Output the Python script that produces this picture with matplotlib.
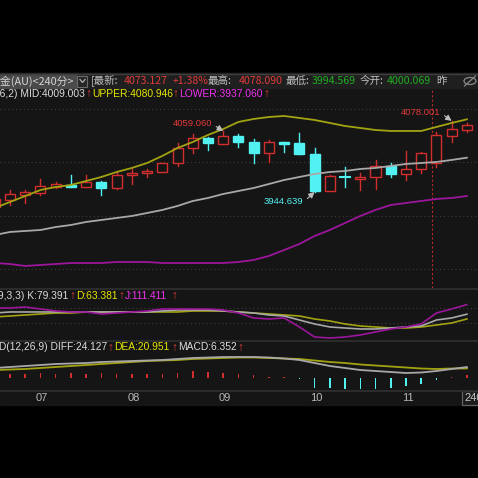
import matplotlib.pyplot as plt
from matplotlib.patches import Rectangle, Ellipse
from matplotlib.transforms import blended_transform_factory

plt.rcParams['font.family'] = ['Liberation Sans', 'DejaVu Sans']
CJK = ['Noto Sans CJK SC', 'DejaVu Sans']

# 240-minute bars; index -1 is the one cut off at the left edge
idx = list(range(-1, 31))
opens = [3916.5, 3929.6, 3939.0, 3942.8, 3954.0, 3957.8, 3954.0, 3963.4, 3952.1, 3976.5,
         3980.3, 3982.1, 3999.0, 4027.2, 4045.9, 4034.7, 4049.7, 4038.4, 4017.8, 4038.4,
         4036.5, 4015.9, 3946.5, 3972.8, 3969.0, 3972.8, 3993.4, 3978.4, 3987.8, 3999.0,
         4049.7, 4060.9]
closes = [3931.5, 3940.9, 3944.6, 3955.9, 3959.6, 3954.0, 3963.4, 3952.1, 3976.5, 3980.3,
          3984.0, 3999.0, 4027.2, 4045.9, 4036.5, 4049.7, 4038.4, 4017.8, 4038.4, 4034.7,
          4015.9, 3946.5, 3974.6, 3970.9, 3972.8, 3993.4, 3978.4, 3987.8, 4017.8, 4051.6,
          4062.8, 4071.0]
highs = [3935.2, 3948.4, 3948.4, 3969.0, 3963.4, 3976.5, 3976.5, 3965.3, 3984.0, 3987.8,
         3987.8, 3999.6, 4036.5, 4053.4, 4047.8, 4059.06, 4053.4, 4044.1, 4042.2, 4038.4,
         4055.3, 4027.2, 3976.5, 3991.5, 3980.3, 4004.7, 3999.0, 4021.5, 4019.7, 4057.2,
         4078.001, 4074.1]
lows = [3912.7, 3920.2, 3924.0, 3939.0, 3952.1, 3954.0, 3954.0, 3939.0, 3950.3, 3959.6,
        3972.8, 3982.1, 3993.4, 4017.8, 4023.4, 4034.7, 4029.1, 3999.0, 4000.9, 4019.7,
        4015.9, 3944.639, 3946.5, 3954.0, 3948.0, 3950.3, 3972.8, 3967.1, 3980.3, 3991.5,
        4038.4, 4057.2]

# BOLL
upper = [3914.6, 3925.9, 3937.1, 3948.4, 3954.0, 3957.8, 3965.3, 3972.8, 3982.1, 3989.7,
         3999.0, 4012.2, 4027.2, 4038.4, 4051.6, 4062.8, 4076.0, 4081.6, 4085.3, 4087.2,
         4083.5, 4079.7, 4074.1, 4068.4, 4064.7, 4060.9, 4059.1, 4059.1, 4059.1, 4066.6,
         4074.1, 4080.946]
mid = [3863.9, 3869.6, 3871.5, 3873.3, 3878.9, 3882.7, 3888.4, 3892.1, 3895.9, 3899.6,
       3905.2, 3910.9, 3918.4, 3927.7, 3933.4, 3940.9, 3946.5, 3952.1, 3959.6, 3967.1,
       3972.8, 3978.4, 3982.1, 3984.0, 3987.8, 3989.7, 3993.4, 3997.2, 3999.0, 4000.9,
       4004.7, 4009.003]
lower = [3811.4, 3809.5, 3805.8, 3807.7, 3809.5, 3811.4, 3811.4, 3811.4, 3813.3, 3813.3,
         3813.3, 3811.4, 3811.4, 3811.4, 3811.4, 3811.4, 3813.3, 3817.1, 3824.6, 3835.8,
         3847.1, 3862.1, 3873.3, 3886.5, 3899.6, 3910.9, 3920.2, 3924.0, 3927.7, 3931.5,
         3933.4, 3937.06]

# KDJ
k_vals = [83.3, 86.7, 86.7, 86.7, 86.7, 86.7, 86.7, 86.7, 86.7, 86.7, 86.7, 90.0, 93.3,
          93.3, 93.3, 90.0, 86.7, 83.3, 76.7, 73.3, 60.0, 46.7, 36.7, 33.3, 30.0, 30.0,
          33.3, 36.7, 40.0, 60.0, 66.7, 79.391]
d_vals = [70.0, 73.3, 76.7, 80.0, 83.3, 83.3, 86.7, 86.7, 86.7, 86.7, 86.7, 86.7, 86.7,
          90.0, 90.0, 90.0, 86.7, 83.3, 80.0, 76.7, 73.3, 63.3, 56.7, 46.7, 40.0, 36.7,
          33.3, 33.3, 36.7, 43.3, 50.0, 63.381]
j_vals = [100.0, 100.0, 103.3, 96.7, 90.0, 86.7, 86.7, 80.0, 83.3, 86.7, 90.0, 96.7, 96.7,
          96.7, 96.7, 93.3, 83.3, 66.7, 63.3, 66.7, 36.7, 3.3, 0.0, 3.3, 10.0, 20.0,
          30.0, 36.7, 46.7, 83.3, 96.7, 111.411]

# MACD
diff = [22.0, 24.2, 26.4, 28.6, 30.8, 31.9, 33.0, 35.2, 36.3, 37.4, 38.5, 39.6, 41.8,
        44.0, 45.1, 46.2, 46.2, 46.2, 45.1, 42.9, 39.6, 33.0, 26.4, 22.0, 17.6, 15.4,
        13.2, 11.0, 12.1, 15.4, 19.8, 24.127]
dea = [17.6, 18.7, 19.8, 22.0, 24.2, 26.4, 28.6, 30.8, 33.0, 35.2, 37.4, 38.5, 39.6,
       41.8, 42.9, 44.0, 45.1, 45.1, 44.0, 42.9, 41.8, 38.5, 35.2, 33.0, 29.7, 27.5,
       25.3, 23.1, 20.9, 19.8, 20.9, 20.951]
hist = [8.8, 8.8, 8.8, 11.0, 8.8, 11.0, 8.8, 11.0, 8.8, 8.8, 8.8, 8.8, 11.0, 15.4, 13.2,
        11.0, 8.8, 6.6, 3.3, 1.8, -2.2, -22.0, -22.0, -25.0, -25.0, -24.2, -22.0, -17.6,
        -13.2, -4.4, 1.8, 6.352]

day_pos = [2, 8, 14, 20, 26]
day_labels = ['07', '08', '09', '10', '11']
marker_idx = 27.7

BG = '#151515'
RED = '#d22e2e'
CYAN = '#52f2f2'
OLIVE = '#a3a312'
GREY = '#a8a8a8'
PURPLE = '#9c169c'
TXT = '#dcdcdc'
YEL = '#e6e600'
MAG = '#f032f0'
TRED = '#e23a3a'
GREEN = '#1fae1f'
DOT = dict(color='#3c3c3c', lw=0.8, ls=(0, (1, 2.5)))

W = H = 478
fig = plt.figure(figsize=(W / 100, H / 100), dpi=100, facecolor='black')
bg = fig.add_axes([0, 0, 1, 1])
bg.set_xlim(0, W)
bg.set_ylim(H, 0)
bg.axis('off')
bg.add_patch(Rectangle((0, 73), W, 332, color=BG))
bg.add_patch(Rectangle((0, 73), W, 15, color='#1f1f1f'))
bg.plot([0, W], [73.5, 73.5], color='#3e3e3e', lw=1)
for yy in (288.5, 340.5, 390.5):
    bg.plot([0, W], [yy, yy], color='#2e2e2e', lw=1.3)

# title bar
bg.add_patch(Rectangle((0, 74), 76, 14, color='#4a4a4a'))
bg.text(74, 81, '黄金(AU)<240分>', ha='right', va='center', color='#d4d4d4',
        fontsize=7.8, family=CJK)
bg.add_patch(Rectangle((77.5, 75.5), 10, 11, facecolor='#262626', edgecolor='#6c6c6c', lw=0.8))
bg.plot([80, 82.5, 85], [79.5, 82.5, 79.5], color='#b0b0b0', lw=0.9)
title_parts = [(91, '[最新:', '#c0c0c0'), (124, '4073.127', TRED), (173, '+1.38%', TRED),
               (208, '最高:', '#c0c0c0'), (239, '4078.090', TRED), (286, '最低:', '#c0c0c0'),
               (312, '3994.569', GREEN), (360, '今开:', '#c0c0c0'), (387, '4000.069', GREEN),
               (436, '昨', '#c0c0c0')]
for x, s, c in title_parts:
    bg.text(x, 81, s, ha='left', va='center', color=c, fontsize=7.6, family=CJK)
bg.add_patch(Ellipse((470, 81), 12, 7, facecolor='none', edgecolor='#8a8a8a', lw=0.9))
bg.plot([464.5, 475.5], [86, 76], color='#8a8a8a', lw=0.9)


def row(y, parts, first_right):
    s0, c0 = parts[0]
    bg.text(first_right, y, s0, ha='right', va='center', color=c0, fontsize=7.4)
    for x, s, c in parts[1:]:
        if s == '↑':
            bg.text(x, y, s, ha='center', va='center', color=c, fontsize=8.5)
        else:
            bg.text(x, y, s, ha='left', va='center', color=c, fontsize=7.4)


row(94, [('BOLL(26,2) MID:4009.003', TXT), (88, '↑', TRED), (92, 'UPPER:4080.946', YEL),
         (175.5, '↑', TRED), (179, 'LOWER:3937.060', MAG), (266.5, '↑', TRED)], 85)
row(296, [('KDJ(9,3,3) K:79.391', TXT), (72, '↑', TRED), (76, 'D:63.381', YEL),
          (121.5, '↑', TRED), (125, 'J:111.411', MAG), (174, '↑', TRED)], 68)
row(347.5, [('MACD(12,26,9) DIFF:24.127', TXT), (110.5, '↑', TRED), (114, 'DEA:20.951', YEL),
            (174.5, '↑', TRED), (178, 'MACD:6.352', TXT), (240.5, '↑', TRED)], 107)


def panel(top, bottom):
    a = fig.add_axes([0, 1 - bottom / H, 1, (bottom - top) / H])
    a.set_facecolor('none')
    a.set_xlim(-10 / 15.23, 468 / 15.23)
    a.set_xticks([])
    a.set_yticks([])
    for sp in a.spines.values():
        sp.set_visible(False)
    return a


ax = panel(88, 288)
ax.set_ylim(3764.5, 4139.7)
for lvl in (4100, 4000, 3900, 3800):
    ax.axhline(lvl, **DOT)
ax.axvline(marker_idx, color='#b82a2a', lw=0.8, ls=(0, (2, 2)), zorder=2)

for i, o, h, l, c in zip(idx, opens, highs, lows, closes):
    up = c >= o
    col = RED if up else CYAN
    ax.plot([i, i], [l, h], color=col, lw=1.0, zorder=3)
    lo, hi = min(o, c), max(o, c)
    if hi - lo < 2:
        ax.plot([i - 0.33, i + 0.33], [(lo + hi) / 2] * 2, color=col, lw=1.5, zorder=4)
    else:
        ax.add_patch(Rectangle((i - 0.33, lo), 0.66, hi - lo, facecolor=BG if up else col,
                               edgecolor=col, lw=1.0, zorder=4))

ax.plot(idx, upper, color=OLIVE, lw=1.3, zorder=5)
ax.plot(idx, mid, color=GREY, lw=1.3, zorder=5)
ax.plot(idx, lower, color=PURPLE, lw=1.3, zorder=5)

arrow = dict(arrowstyle='-|>,head_length=0.5,head_width=0.25', color='#bdbdbd', lw=0.8,
             mutation_scale=7, shrinkA=1, shrinkB=0, relpos=(1, 0.5))
hi_i = highs.index(4059.06)
ax.annotate('4059.060', xy=(idx[hi_i], highs[hi_i]), xytext=(-11, 7), textcoords='offset pixels',
            ha='right', va='center', color=TRED, fontsize=6.8, arrowprops=arrow, zorder=6)
lo_i = lows.index(3944.639)
ax.annotate('3944.639', xy=(idx[lo_i], lows[lo_i]), xytext=(-11, -10), textcoords='offset pixels',
            ha='right', va='center', color=CYAN, fontsize=6.8, arrowprops=arrow, zorder=6)
hi2 = highs.index(4078.001)
ax.annotate('4078.001', xy=(idx[hi2], highs[hi2]), xytext=(-11, 8), textcoords='offset pixels',
            ha='right', va='center', color=TRED, fontsize=6.8, arrowprops=arrow, zorder=6)

ax2 = panel(289, 340)
ax2.set_ylim(-6.7, 163.3)
for lvl in (100, 50):
    ax2.axhline(lvl, **DOT)
ax2.plot(idx, d_vals, color=OLIVE, lw=1.2)
ax2.plot(idx, k_vals, color=GREY, lw=1.2)
ax2.plot(idx, j_vals, color=PURPLE, lw=1.2)

ax3 = panel(341, 390)
ax3.set_ylim(-26.4, 81.4)
bar_cols = [RED if v >= 0 else CYAN for v in hist]
ax3.bar(idx, hist, width=0.1, color=bar_cols)
ax3.plot(idx, dea, color=OLIVE, lw=1.3)
ax3.plot(idx, diff, color=GREY, lw=1.3)

tr = blended_transform_factory(ax3.transData, bg.transData)
for p, lab in zip(day_pos, day_labels):
    bg.text(p + 0.1, 398, lab, transform=tr, ha='center', va='center', color='#b8b8b8', fontsize=8)
bg.add_patch(Rectangle((462, 391), 17, 14, facecolor='#1c1c1c', edgecolor='#626262', lw=0.9))
bg.text(464, 398, '240', ha='left', va='center', color='#c8c8c8', fontsize=8)

fig.savefig('out.png', dpi=100, facecolor='black')
